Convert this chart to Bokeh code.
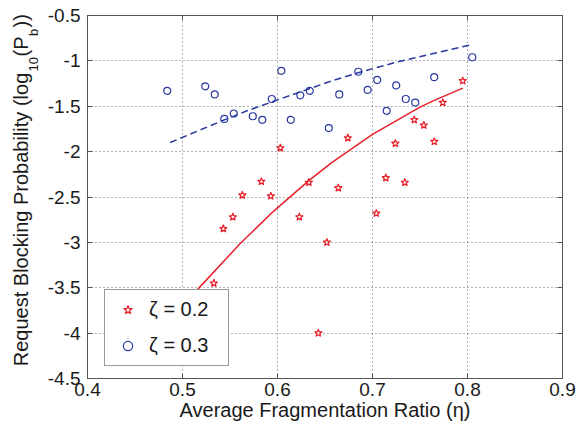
import numpy as np
from bokeh.plotting import figure
from bokeh.models import (Range1d, FixedTicker, LinearAxis, Legend, LegendItem,
                          CustomJSTickFormatter)
from bokeh.embed import file_html
from bokeh.resources import INLINE

# ---------------- data ----------------
z02_x = [0.533, 0.543, 0.553, 0.563, 0.583, 0.593, 0.603, 0.623, 0.633, 0.643, 0.652,
         0.664, 0.674, 0.704, 0.714, 0.724, 0.734, 0.744, 0.754, 0.765, 0.774, 0.795]
z02_y = [-3.45, -2.85, -2.72, -2.48, -2.33, -2.49, -1.96, -2.72, -2.34, -4.00, -3.00,
         -2.40, -1.85, -2.68, -2.29, -1.91, -2.34, -1.65, -1.71, -1.89, -1.46, -1.22]

z03_x = [0.484, 0.524, 0.534, 0.544, 0.554, 0.574, 0.584, 0.594, 0.604, 0.614, 0.624, 0.634,
         0.654, 0.665, 0.685, 0.695, 0.705, 0.715, 0.725, 0.735, 0.745, 0.765, 0.805]
z03_y = [-1.33, -1.28, -1.37, -1.64, -1.58, -1.61, -1.65, -1.42, -1.11, -1.65, -1.38, -1.33,
         -1.74, -1.37, -1.12, -1.32, -1.21, -1.55, -1.27, -1.42, -1.46, -1.18, -0.96]

fit02_x = [0.485, 0.514, 0.561, 0.596, 0.633, 0.656, 0.700, 0.750, 0.765, 0.795]
fit02_y = [-3.90, -3.54, -3.01, -2.655, -2.32, -2.13, -1.81, -1.51, -1.435, -1.30]

fit03_x = [0.487, 0.544, 0.568, 0.600, 0.656, 0.685, 0.726, 0.805]
fit03_y = [-1.90, -1.65, -1.55, -1.43, -1.225, -1.13, -1.012, -0.82]

x_ticks = [0.4, 0.5, 0.6, 0.7, 0.8, 0.9]
y_ticks = [-4.5, -4, -3.5, -3, -2.5, -2, -1.5, -1, -0.5]
legend_labels = ["\u03b6 = 0.2", "\u03b6 = 0.3"]
x_title = "Average Fragmentation Ratio (\u03b7)"
# y title: normal-size pieces and subscript pieces
y_title_main = ["Request Blocking Probability (log", "(P", "))"]
y_title_sub = ["10", "b"]

# ---------------- style ----------------
FONT = "Liberation Sans"
TXT = "#1a1a1a"
FRAME = "#555555"
RED = "#e8202a"
BLUE = "#2838a0"

W, H = 587, 425
FL, FR, FT, FB = 87, 562, 15, 378          # frame edges in page pixels

p = figure(width=W, height=H, output_backend="svg", toolbar_location=None,
           x_range=Range1d(0.4, 0.9), y_range=Range1d(-4.5, -0.5),
           min_border_left=FL, min_border_right=W - FR, min_border_top=FT,
           min_border_bottom=H - FB,
           background_fill_color="white", border_fill_color="white")
p.outline_line_color = FRAME


def py(Y):
    """page pixel row -> y data value (used only to place title pieces)"""
    return -0.5 - (Y - FT) / (FB - FT) * 4.0


fmt = CustomJSTickFormatter(code="return (Math.abs(tick % 1) < 1e-9) ? tick.toFixed(0) : tick.toFixed(1);")
for ax, ticks in ((p.xaxis[0], x_ticks), (p.yaxis[0], y_ticks)):
    ax.ticker = FixedTicker(ticks=ticks)
    ax.formatter = fmt
    ax.major_label_text_font = FONT
    ax.major_label_text_font_size = "19px"
    ax.major_label_text_color = TXT
    ax.major_tick_in = 5
    ax.major_tick_out = 0
    ax.minor_tick_in = 0
    ax.minor_tick_out = 0
    ax.axis_line_color = FRAME
    ax.major_tick_line_color = FRAME
p.yaxis.major_label_standoff = 7
p.xaxis.major_label_standoff = 4

p.xaxis.axis_label = x_title
p.xaxis.axis_label_text_font = FONT
p.xaxis.axis_label_text_font_size = "20px"
p.xaxis.axis_label_text_font_style = "normal"
p.xaxis.axis_label_text_color = TXT
p.xaxis.axis_label_standoff = 0

empty = CustomJSTickFormatter(code="return '';")
for loc, ticks in (("above", x_ticks), ("right", y_ticks)):
    ax = LinearAxis(ticker=FixedTicker(ticks=ticks), formatter=empty,
                    major_label_text_font_size="0px", major_label_standoff=0,
                    major_tick_in=5, major_tick_out=0, minor_tick_in=0, minor_tick_out=0,
                    axis_line_color=FRAME, major_tick_line_color=FRAME)
    p.add_layout(ax, loc)

# y title built from two label-only axes (normal text and subscripts)
sub_pos = [py(63.75), py(31.75)]
main_pos = [py(219.0), py(46.0), py(20.35)]
for labels, pos, fs, so in ((y_title_sub, sub_pos, "13px", 4),
                            (y_title_main, main_pos, "20px", -9)):
    ax = LinearAxis(ticker=FixedTicker(ticks=pos),
                    formatter=CustomJSTickFormatter(args=dict(labels=labels),
                                                    code="return labels[index];"),
                    major_label_orientation="parallel",
                    major_label_text_font=FONT, major_label_text_font_size=fs,
                    major_label_text_color=TXT, major_label_standoff=so,
                    major_tick_in=0, major_tick_out=0, minor_tick_in=0, minor_tick_out=0,
                    axis_line_color=None, major_tick_line_color=None)
    p.add_layout(ax, "left")

p.xgrid.ticker = FixedTicker(ticks=x_ticks)
p.ygrid.ticker = FixedTicker(ticks=y_ticks)
p.grid.grid_line_color = "#444444"
p.grid.grid_line_dash = "1 3"
p.grid.grid_line_alpha = 0.8

# ---------------- glyphs ----------------
p.line(fit02_x, fit02_y, line_color=RED, line_width=1.5)
p.line(fit03_x, fit03_y, line_color=BLUE, line_width=1.5, line_dash="7 4")
r02 = p.scatter(z02_x, z02_y, marker="star", size=8, line_color=RED, line_width=1.2,
                fill_color=None)
r03 = p.scatter(z03_x, z03_y, marker="circle", size=7, line_color=BLUE, line_width=1.2,
                fill_color=None)

legend = Legend(items=[LegendItem(label=legend_labels[0], renderers=[r02]),
                       LegendItem(label=legend_labels[1], renderers=[r03])],
                location=(17, 12), padding=8, spacing=13, margin=0,
                glyph_width=29, glyph_height=23, label_height=23, label_width=71,
                label_standoff=7, label_text_font=FONT, label_text_font_size="20px",
                label_text_color=TXT, border_line_color="#333333",
                background_fill_color="white", background_fill_alpha=1.0)
p.add_layout(legend)

open("out.html", "w").write(file_html(p, INLINE))
